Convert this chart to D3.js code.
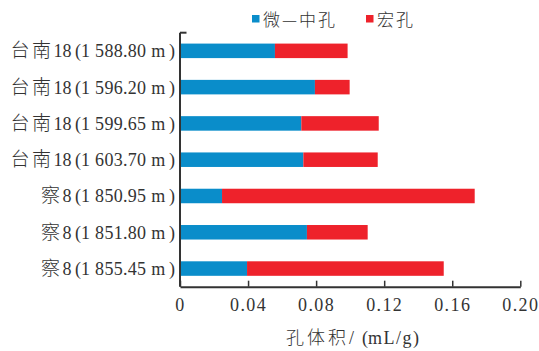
<!DOCTYPE html>
<html>
<head>
<meta charset="utf-8">
<script src="https://cdn.jsdelivr.net/npm/d3@7/dist/d3.min.js"></script>
<style>
  html, body { margin: 0; padding: 0; background: #fff; }
  svg { display: block; }
  text { font-family: "Liberation Serif", "Noto Sans CJK SC", serif; fill: #333; }
  .cjk { font-family: "Noto Sans CJK SC", sans-serif; font-weight: 300; }
</style>
</head>
<body>
<svg id="chart" width="539" height="351"></svg>
<script>
// Samples: well name and depth
const wells  = ["台南18", "台南18", "台南18", "台南18", "察8", "察8", "察8"];
const depths = ["1 588.80 m", "1 596.20 m", "1 599.65 m", "1 603.70 m", "1 850.95 m", "1 851.80 m", "1 855.45 m"];
const samples = wells.map((w, i) => `${w}（${depths[i]}）`);
// Pore volume, mL/g
const microMeso = [0.0558, 0.0793, 0.0713, 0.0725, 0.0247, 0.0746, 0.0394];
const macro     = [0.0427, 0.0204, 0.0455, 0.0437, 0.1485, 0.0357, 0.1156];
const seriesNames = ["微—中孔", "宏孔"];
const seriesColors = ["#0a8dca", "#ee222b"];
const xTicks = [0, 0.04, 0.08, 0.12, 0.16, 0.20];

const svg = d3.select("#chart");
const plotLeft = 180, plotRight = 520.3, plotTop = 32.7, plotBottom = 286.7;

const x = d3.scaleLinear().domain([0, 0.20]).range([plotLeft, plotRight]);
const y = d3.scaleBand().domain(samples).range([plotTop, plotBottom])
  .paddingInner(0.6).paddingOuter(0.3);

const rows = samples.map((s, i) => ({ s, a: microMeso[i], b: macro[i] }));
const stacked = d3.stack().keys(["a", "b"])(rows);

svg.append("g").selectAll("g").data(stacked).join("g")
  .attr("fill", (d, i) => seriesColors[i])
  .selectAll("rect").data(d => d).join("rect")
  .attr("x", d => x(d[0]))
  .attr("width", d => x(d[1]) - x(d[0]))
  .attr("y", d => y(d.data.s))
  .attr("height", y.bandwidth());

// Category labels: well name, then depth in parentheses
const labels = svg.append("g").selectAll("text").data(samples).join("text")
  .attr("x", plotLeft - 5)
  .attr("y", d => y(d) + y.bandwidth() / 2)
  .attr("dy", "0.36em")
  .attr("text-anchor", "end")
  .attr("font-size", 18);
labels.each(function (d, i) {
  const t = d3.select(this);
  const name = wells[i];
  const cn = name.replace(/[0-9]+$/, "");
  const num = name.slice(cn.length);
  t.append("tspan").attr("class", "cjk").attr("font-size", 19).attr("letter-spacing", 2.5).text(cn);
  t.append("tspan").text(num);
  t.append("tspan").attr("dx", 3.5).text("(");
  t.append("tspan").attr("letter-spacing", 0.3).text(depths[i]);
  t.append("tspan").attr("dx", 3.5).text(")");
});

// Axes
const axisColor = "#333";
svg.append("line")
  .attr("x1", plotLeft).attr("x2", plotLeft).attr("y1", plotTop).attr("y2", plotBottom)
  .attr("stroke", axisColor).attr("stroke-width", 2);
svg.append("line")
  .attr("x1", plotLeft).attr("x2", plotLeft + 6.5).attr("y1", plotTop).attr("y2", plotTop)
  .attr("stroke", axisColor).attr("stroke-width", 2);

const xAxis = d3.axisBottom(x).tickValues(xTicks).tickSizeInner(-6).tickSizeOuter(0)
  .tickFormat(d => d === 0 ? "0" : d3.format(".2f")(d));
const gx = svg.append("g").attr("transform", `translate(0,${plotBottom})`).call(xAxis);
gx.select(".domain").attr("stroke", axisColor).attr("stroke-width", 2);
gx.selectAll(".tick line").attr("stroke", axisColor).attr("stroke-width", 1.5);
gx.selectAll(".tick text")
  .attr("y", 17.6).attr("dy", "0.36em")
  .attr("font-size", 18)
  .attr("letter-spacing", 1.4)
  .attr("font-family", "Liberation Serif, serif")
  .attr("fill", "#333");

// Axis title
const title = svg.append("text")
  .attr("x", 352.5).attr("y", 338).attr("dy", "0.36em")
  .attr("text-anchor", "middle").attr("font-size", 18);
title.append("tspan").attr("class", "cjk").attr("letter-spacing", 3).text("孔体积");
title.append("tspan").text("/");
title.append("tspan").attr("dx", 8).text("(");
title.append("tspan").attr("letter-spacing", 1.5).text("mL/g");
title.append("tspan").text(")");

// Legend
const legendX = [252, 366];
const lg = svg.append("g");
seriesNames.forEach((n, i) => {
  lg.append("rect").attr("x", legendX[i]).attr("y", 15).attr("width", 7.5).attr("height", 7.5)
    .attr("fill", seriesColors[i]);
  lg.append("text").attr("class", "cjk").attr("x", legendX[i] + 11).attr("y", 20).attr("dy", "0.36em")
    .attr("font-size", 17).attr("letter-spacing", 2).text(n);
});
</script>
</body>
</html>
